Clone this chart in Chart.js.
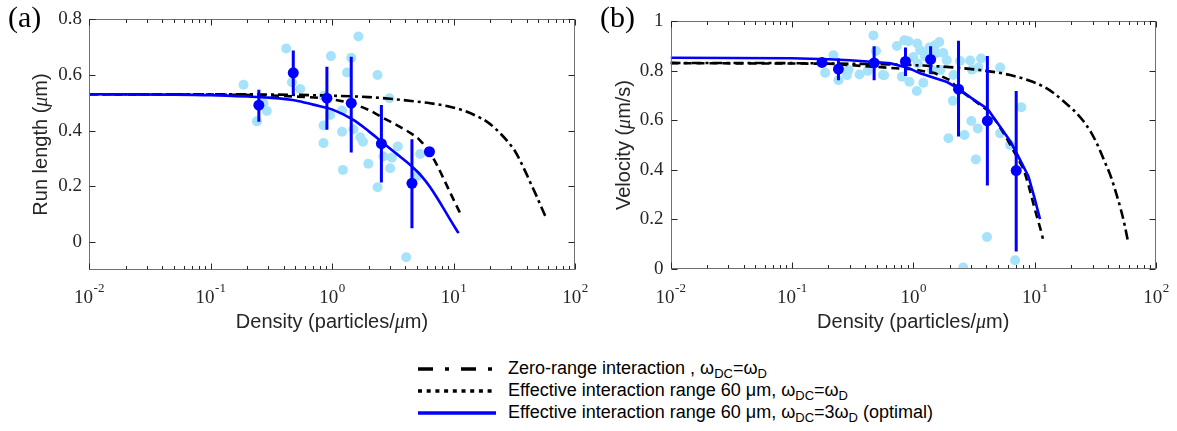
<!DOCTYPE html>
<html>
<head>
<meta charset="utf-8">
<script src="https://cdn.jsdelivr.net/npm/chart.js@4.4.1/dist/chart.umd.min.js"></script>
<style>
  body { margin:0; background:#fff; width:1177px; height:431px; position:relative; overflow:hidden; }
  #chartA { position:absolute; left:0; top:0; }
  #chartB { position:absolute; left:590px; top:0; }
  #legend { position:absolute; left:418px; top:358px; font-family:"Liberation Sans", Arial, sans-serif; font-size:18px; color:#000; }
  .row { height:21.8px; line-height:21.8px; white-space:nowrap; }
  .row svg { width:78px; height:8px; margin-right:12px; vertical-align:middle; }
  sub { font-size:13px; vertical-align:-4px; line-height:0; }
</style>
</head>
<body>
<canvas id="chartA" width="590" height="340"></canvas>
<canvas id="chartB" width="587" height="340"></canvas>
<div id="legend">
  <div class="row"><svg><line x1="0" y1="4" x2="78" y2="4" stroke="#000" stroke-width="3.5" stroke-dasharray="15 12 4 12"/></svg><span>Zero-range interaction , ω<sub>DC</sub>=ω<sub>D</sub></span></div>
  <div class="row"><svg><line x1="0" y1="4" x2="78" y2="4" stroke="#000" stroke-width="3.5" stroke-dasharray="4 4.7"/></svg><span>Effective interaction range 60 μm, ω<sub>DC</sub>=ω<sub>D</sub></span></div>
  <div class="row"><svg><line x1="0" y1="4" x2="78" y2="4" stroke="#0000ff" stroke-width="3.5"/></svg><span>Effective interaction range 60 μm, ω<sub>DC</sub>=3ω<sub>D</sub> (optimal)</span></div>
</div>
<script>
const SANS = '"Liberation Sans", Arial, sans-serif';
const SERIF = '"Liberation Serif", "Times New Roman", serif';
const LIGHT = '#a6e3fb';
const BLUE = '#0000ff';

// x axis decades (log10 of density)
const xDecades = [-2, -1, 0, 1, 2];

// ---- (a) run length ----
const runTicks = [0, 0.2, 0.4, 0.6, 0.8];
const runDotsX = [0.187, 0.420, 0.468, 0.547, 0.273, 0.291, 0.241, 0.98, 0.851, 0.966, 0.851, 0.851, 1.44, 1.65, 1.33, 1.21, 1.21, 1.50, 1.71, 1.80, 1.23, 1.99, 2.37, 2.97, 2.37, 2.65, 3.11, 3.01, 3.48, 5.32, 5.06, 4.08];
const runDotsY = [0.564, 0.694, 0.573, 0.549, 0.498, 0.470, 0.433, 0.667, 0.524, 0.456, 0.418, 0.355, 0.661, 0.737, 0.608, 0.472, 0.396, 0.405, 0.376, 0.360, 0.259, 0.281, 0.599, 0.516, 0.197, 0.307, 0.303, 0.265, 0.343, 0.316, 0.238, -0.054];
const runMeanX = [0.250, 0.480, 0.908, 1.44, 2.55, 4.55, 6.34];
const runMeanY = [0.491, 0.607, 0.516, 0.498, 0.353, 0.211, 0.324];
const runErrLo = [0.432, 0.528, 0.403, 0.321, 0.214, 0.050, null];
const runErrHi = [0.546, 0.687, 0.629, 0.665, 0.492, 0.369, null];
const runZeroX = [0.01, 0.1, 0.5, 1, 2, 3, 4.5, 6.43, 9, 12.1, 15, 18.8, 22, 25, 28.5, 32.2, 36, 40.2, 44, 48.5, 53, 57.9];
const runZeroY = [0.530, 0.530, 0.528, 0.525, 0.520, 0.514, 0.506, 0.498, 0.487, 0.472, 0.455, 0.432, 0.408, 0.384, 0.356, 0.325, 0.285, 0.241, 0.203, 0.163, 0.124, 0.086];
const runEffX = [0.01, 0.1, 0.3, 0.5, 1, 1.5, 2, 2.7, 3.6, 4.5, 5.3, 6.43, 7.3, 8.9, 10.2, 11.5];
const runEffY = [0.530, 0.529, 0.526, 0.522, 0.512, 0.495, 0.474, 0.443, 0.414, 0.389, 0.365, 0.319, 0.277, 0.199, 0.145, 0.098];
const runOptX = [0.01, 0.05, 0.1, 0.2, 0.3, 0.5, 0.7, 1, 1.5, 2, 2.55, 3.3, 4.55, 5.5, 6.43, 7.3, 8.3, 9.5, 11.0];
const runOptY = [0.530, 0.529, 0.527, 0.522, 0.518, 0.508, 0.493, 0.476, 0.438, 0.398, 0.361, 0.321, 0.271, 0.235, 0.197, 0.160, 0.120, 0.077, 0.032];

// ---- (b) velocity ----
const velTicks = [0, 0.2, 0.4, 0.6, 0.8, 1];
const velDotsX = [0.220, 0.188, 0.242, 0.284, 0.293, 0.361, 0.420, 0.470, 0.493, 0.562, 0.576, 0.733, 0.805, 0.843, 0.912, 0.929, 1.0, 1.07, 1.08, 1.09, 1.14, 1.21, 1.25, 1.29, 1.36, 1.43, 1.51, 1.55, 1.64, 1.67, 1.77, 1.89, 2.14, 2.43, 2.94, 3.04, 3.62, 3.44, 5.2, 2.12, 1.95, 2.64, 3.01, 3.40, 3.28, 5.2, 6.28, 7.78, 4.05, 2.58, 6.90];
const velDotsY = [0.862, 0.791, 0.761, 0.781, 0.802, 0.784, 0.799, 0.942, 0.879, 0.782, 0.781, 0.899, 0.775, 0.922, 0.918, 0.755, 0.855, 0.718, 0.909, 0.829, 0.882, 0.751, 0.858, 0.875, 0.893, 0.802, 0.902, 0.870, 0.915, 0.802, 0.871, 0.842, 0.782, 0.839, 0.841, 0.804, 0.849, 0.812, 0.812, 0.678, 0.527, 0.540, 0.597, 0.567, 0.442, 0.547, 0.500, 0.652, 0.129, 0.006, 0.035];
const velMeanX = [0.177, 0.242, 0.476, 0.863, 1.39, 2.36, 4.08, 7.05];
const velMeanY = [0.833, 0.806, 0.831, 0.837, 0.845, 0.725, 0.597, 0.397];
const velErrLo = [null, 0.761, 0.761, 0.778, 0.786, 0.534, 0.337, 0.071];
const velErrHi = [null, 0.849, 0.898, 0.893, 0.898, 0.920, 0.859, 0.718];
const velZeroX = [0.01, 0.1, 0.5, 1, 2, 4, 6.3, 9, 11.9, 14.5, 17.5, 21, 24.8, 29, 33, 38, 42.5, 47, 51.4, 55, 58.4];
const velZeroY = [0.831, 0.830, 0.826, 0.822, 0.814, 0.799, 0.782, 0.760, 0.735, 0.708, 0.674, 0.640, 0.601, 0.553, 0.500, 0.430, 0.372, 0.305, 0.239, 0.180, 0.118];
const velEffX = [0.01, 0.2, 0.4, 0.6, 1, 1.5, 2, 2.4, 3, 4.1, 5, 6, 7, 8.16, 9, 9.9, 10.6, 11.2, 11.7];
const velEffY = [0.830, 0.828, 0.818, 0.812, 0.805, 0.790, 0.762, 0.722, 0.688, 0.640, 0.585, 0.520, 0.460, 0.400, 0.330, 0.252, 0.200, 0.160, 0.122];
const velOptX = [0.01, 0.1, 0.2, 0.3, 0.45, 0.65, 0.9, 1.14, 1.5, 1.9, 2.36, 3, 4.1, 5.2, 6.34, 7.5, 8.9, 10, 11.07];
const velOptY = [0.852, 0.850, 0.846, 0.842, 0.836, 0.829, 0.812, 0.789, 0.770, 0.754, 0.727, 0.690, 0.645, 0.574, 0.513, 0.445, 0.373, 0.285, 0.201];

function pts(xs, ys) {
  return xs.map((x, i) => ({ x: x, y: ys[i] }));
}

// text made of runs in different fonts, centred on x
function drawRuns(ctx, runs, x, y) {
  let w = 0;
  runs.forEach(r => { ctx.font = r[1]; w += ctx.measureText(r[0]).width; });
  let cx = x - w / 2;
  runs.forEach(r => {
    ctx.font = r[1];
    ctx.fillText(r[0], cx, y);
    cx += ctx.measureText(r[0]).width;
  });
}

// matlab like box, inward ticks, 10^n labels, titles and error bars
function axesPlugin(cfg) {
  return {
    id: 'axes' + cfg.panel,
    afterDatasetsDraw(chart) {
      const ctx = chart.ctx, xs = chart.scales.x, ys = chart.scales.y;
      ctx.save();
      ctx.strokeStyle = BLUE;
      ctx.lineWidth = 3;
      ctx.beginPath();
      cfg.errX.forEach((x, i) => {
        if (cfg.errLo[i] == null) return;
        const px = xs.getPixelForValue(x);
        ctx.moveTo(px, ys.getPixelForValue(cfg.errLo[i]));
        ctx.lineTo(px, ys.getPixelForValue(cfg.errHi[i]));
      });
      ctx.stroke();
      ctx.restore();
    },
    afterDraw(chart) {
      const ctx = chart.ctx, a = chart.chartArea, xs = chart.scales.x, ys = chart.scales.y;
      ctx.save();
      const L = Math.round(a.left) + 0.5, R = Math.round(a.right) - 0.5;
      const T = Math.round(a.top) + 0.5, B = Math.round(a.bottom) - 0.5;
      ctx.strokeStyle = '#707070';
      ctx.lineWidth = 1;
      ctx.strokeRect(L, T, R - L, B - T);
      ctx.strokeStyle = '#262626';
      ctx.beginPath();
      xDecades.forEach(d => {
        for (let m = 1; m <= 9; m++) {
          const v = m * Math.pow(10, d);
          if (v > xs.max * 1.0001) break;
          const px = Math.round(xs.getPixelForValue(v)) + 0.5;
          const len = m === 1 ? 6 : 3.5;
          ctx.moveTo(px, B); ctx.lineTo(px, B - len);
          ctx.moveTo(px, T); ctx.lineTo(px, T + len);
        }
      });
      ys.ticks.forEach(t => {
        const py = Math.round(ys.getPixelForValue(t.value)) + 0.5;
        ctx.moveTo(L, py); ctx.lineTo(L + 6, py);
        ctx.moveTo(R, py); ctx.lineTo(R - 6, py);
      });
      ctx.stroke();

      // 10^n tick labels
      ctx.fillStyle = '#262626';
      ctx.textBaseline = 'alphabetic';
      ctx.textAlign = 'left';
      xDecades.forEach(d => {
        const px = xs.getPixelForValue(Math.pow(10, d));
        const base = '10', exp = String(d);
        ctx.font = '19px ' + SERIF;
        const wb = ctx.measureText(base).width;
        ctx.font = '13px ' + SERIF;
        const we = ctx.measureText(exp).width;
        const x0 = px - (wb + we) / 2;
        ctx.font = '19px ' + SERIF;
        ctx.fillText(base, x0, 303);
        ctx.font = '13px ' + SERIF;
        ctx.fillText(exp, x0 + wb + 0.5, 292);
      });

      // axis titles
      drawRuns(ctx, [['Density (particles/', '20px ' + SANS], ['μ', 'italic 20px ' + SERIF], ['m)', '20px ' + SANS]], (a.left + a.right) / 2, 328);
      ctx.save();
      ctx.translate(cfg.yTitleX, (a.top + a.bottom) / 2);
      ctx.rotate(-Math.PI / 2);
      drawRuns(ctx, cfg.yTitle, 0, 0);
      ctx.restore();

      // panel letter
      ctx.fillStyle = '#000';
      ctx.font = '30px ' + SERIF;
      ctx.fillText(cfg.panel, cfg.panelX, 27);
      ctx.restore();
    }
  };
}

function makeChart(id, cfg) {
  return new Chart(document.getElementById(id), {
    type: 'scatter',
    data: {
      datasets: [
        { data: pts(cfg.dotsX, cfg.dotsY), backgroundColor: LIGHT, borderWidth: 0, pointRadius: 5, order: 10 },
        { type: 'line', data: pts(cfg.zeroX, cfg.zeroY), borderColor: '#000', borderWidth: 2.6, borderDash: [10, 4, 3, 4], pointRadius: 0, cubicInterpolationMode: 'monotone', fill: false, order: 6 },
        { type: 'line', data: pts(cfg.effX, cfg.effY), borderColor: '#000', borderWidth: 2.6, borderDash: [8, 5], pointRadius: 0, cubicInterpolationMode: cfg.smooth ? 'monotone' : 'default', tension: 0, fill: false, order: 5 },
        { type: 'line', data: pts(cfg.optX, cfg.optY), borderColor: BLUE, borderWidth: 2.6, pointRadius: 0, cubicInterpolationMode: cfg.smooth ? 'monotone' : 'default', tension: 0, fill: false, order: 4 },
        { data: pts(cfg.meanX, cfg.meanY), backgroundColor: BLUE, borderWidth: 0, pointRadius: 5.5, order: 1 }
      ]
    },
    options: {
      responsive: false,
      animation: false,
      devicePixelRatio: 1,
      layout: { padding: cfg.padding },
      plugins: { legend: { display: false }, tooltip: { enabled: false } },
      scales: {
        x: {
          type: 'logarithmic', min: 0.01, max: 100,
          grid: { display: false }, border: { display: false },
          ticks: { display: false },
          afterFit: s => { s.height = cfg.xHeight; }
        },
        y: {
          type: 'linear', min: cfg.yMin, max: cfg.yMax,
          grid: { display: false, drawTicks: false }, border: { display: false },
          afterBuildTicks: s => { s.ticks = cfg.yTicks.map(v => ({ value: v })); },
          ticks: {
            padding: 7, color: '#262626', font: { family: SERIF, size: 19 },
            callback: v => (v === 0 || v === 1) ? String(v) : v.toFixed(1)
          },
          afterFit: s => { s.width = cfg.yWidth; }
        }
      }
    },
    plugins: [axesPlugin(cfg)]
  });
}

makeChart('chartA', {
  panel: '(a)', panelX: 8, smooth: true,
  dotsX: runDotsX, dotsY: runDotsY, meanX: runMeanX, meanY: runMeanY,
  errX: runMeanX, errLo: runErrLo, errHi: runErrHi,
  zeroX: runZeroX, zeroY: runZeroY, effX: runEffX, effY: runEffY, optX: runOptX, optY: runOptY,
  yMin: -0.1, yMax: 0.8, yTicks: runTicks,
  padding: { left: 0, top: 19, right: 15, bottom: 0 }, yWidth: 89, xHeight: 70,
  yTitleX: 47,
  yTitle: [['Run length (', '20px ' + SANS], ['μ', 'italic 20px ' + SERIF], ['m)', '20px ' + SANS]]
});

makeChart('chartB', {
  panel: '(b)', panelX: 10, smooth: false,
  dotsX: velDotsX, dotsY: velDotsY, meanX: velMeanX, meanY: velMeanY,
  errX: velMeanX, errLo: velErrLo, errHi: velErrHi,
  zeroX: velZeroX, zeroY: velZeroY, effX: velEffX, effY: velEffY, optX: velOptX, optY: velOptY,
  yMin: 0, yMax: 1, yTicks: velTicks,
  padding: { left: 0, top: 21, right: 21, bottom: 0 }, yWidth: 80.5, xHeight: 71,
  yTitleX: 40,
  yTitle: [['Velocity (', '20px ' + SANS], ['μ', 'italic 20px ' + SERIF], ['m/s)', '20px ' + SANS]]
});
</script>
</body>
</html>
